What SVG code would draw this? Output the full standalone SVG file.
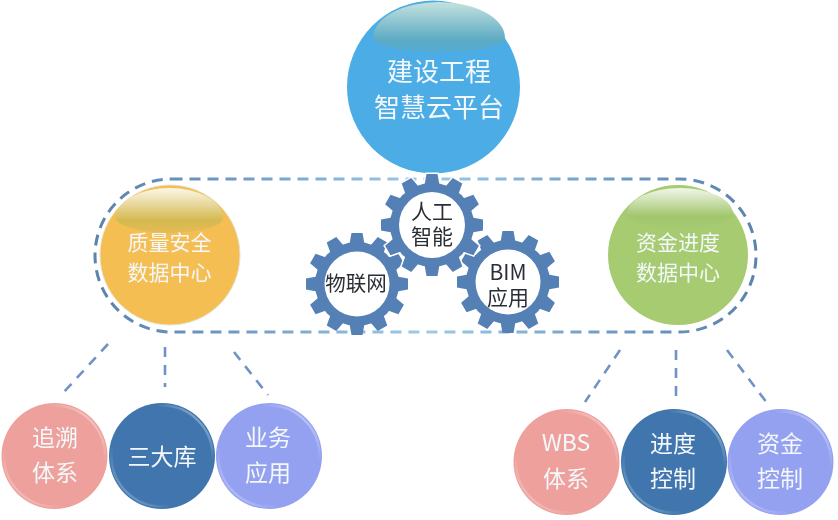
<svg xmlns="http://www.w3.org/2000/svg" xmlns:xlink="http://www.w3.org/1999/xlink" width="838" height="520" viewBox="0 0 838 520">
<style>
text{font-family:"Noto Sans CJK SC","Noto Sans",sans-serif;text-anchor:middle}
.w{fill:#f4f8fa}
.k{fill:#2b2f36}
.t26{font-size:26px}
.t21{font-size:21px}
.t23{font-size:23px}
.g20{font-size:20.5px}
.link{fill:none;stroke:#6f93c6;stroke-width:2.6;stroke-dasharray:10 8}
.rim{fill:none;stroke:url(#rim);stroke-width:2.5}
</style>
<defs>
<filter id="soft" x="-5%" y="-5%" width="110%" height="110%"><feGaussianBlur stdDeviation="0.6"/></filter>
<linearGradient id="band" gradientUnits="userSpaceOnUse" x1="95" y1="0" x2="756" y2="0">
<stop offset="0" stop-color="#5a83ad"/><stop offset=".22" stop-color="#6f9bc6"/><stop offset=".5" stop-color="#9fcbe8"/><stop offset=".78" stop-color="#6f9bc6"/><stop offset="1" stop-color="#5a83ad"/>
</linearGradient>
<linearGradient id="rim" x1="0" y1="1" x2="1" y2="0">
<stop offset="0.1" stop-color="#fff" stop-opacity=".3"/><stop offset=".3" stop-color="#fff" stop-opacity="0"/><stop offset=".72" stop-color="#fff" stop-opacity="0"/><stop offset=".9" stop-color="#fff" stop-opacity=".4"/>
</linearGradient>
<linearGradient id="glossB" x1="0" y1="0" x2="0" y2="1"><stop offset="0" stop-color="#c4e2de"/><stop offset=".75" stop-color="#5dabc4"/><stop offset="1" stop-color="#55abd2"/></linearGradient>
<linearGradient id="glossO" x1="0" y1="0" x2="0" y2="1"><stop offset="0" stop-color="#fbf7e8"/><stop offset=".72" stop-color="#d5b951"/><stop offset="1" stop-color="#e6bb52"/></linearGradient>
<linearGradient id="glossG" x1="0" y1="0" x2="0" y2="1"><stop offset="0" stop-color="#f2f6ea"/><stop offset=".7" stop-color="#a2c66e"/><stop offset="1" stop-color="#a5ca70"/></linearGradient>
<polygon id="tooth" points="-7.500,-40 -5.500,-51 5.500,-51 7.500,-40"/>
<g id="gear">
<circle r="42"/>
<use xlink:href="#tooth"/><use xlink:href="#tooth" transform="rotate(30)"/><use xlink:href="#tooth" transform="rotate(60)"/><use xlink:href="#tooth" transform="rotate(90)"/><use xlink:href="#tooth" transform="rotate(120)"/><use xlink:href="#tooth" transform="rotate(150)"/><use xlink:href="#tooth" transform="rotate(180)"/><use xlink:href="#tooth" transform="rotate(210)"/><use xlink:href="#tooth" transform="rotate(240)"/><use xlink:href="#tooth" transform="rotate(270)"/><use xlink:href="#tooth" transform="rotate(300)"/><use xlink:href="#tooth" transform="rotate(330)"/>
</g>
</defs>
<rect width="838" height="520" fill="#fff"/>
<g filter="url(#soft)">
<g id="connectors">
<rect x="95" y="179" width="661" height="153" rx="76.500" ry="76.500" fill="none" stroke="url(#band)" stroke-width="3" stroke-dasharray="11 7"/>
<path class="link" d="M108 344L63 393"/>
<path class="link" d="M165 347V387"/>
<path class="link" d="M234 352L268 395"/>
<path class="link" d="M620 350L585 402"/>
<path class="link" d="M676 350V396"/>
<path class="link" d="M727 350L767 403"/>
</g>
<g id="node-platform">
<circle cx="433.500" cy="87" r="86.500" fill="#4bace6"/>
<path d="M373 38A66 36 0 0 1 505 38A66 14 0 0 1 373 38Z" fill="url(#glossB)"/>
<text class="w t26" x="439" y="81">建设工程</text>
<text class="w t26" x="439" y="117">智慧云平台</text>
</g>
<g id="node-quality">
<circle cx="170" cy="255" r="70" fill="#f5be52" stroke="#e6e3cf" stroke-width="1"/>
<path d="M116 218A53.500 30 0 0 1 223 218A53.500 15 0 0 1 116 218Z" fill="url(#glossO)"/>
<text class="w t21" x="169.500" y="250">质量安全</text>
<text class="w t21" x="169.500" y="280">数据中心</text>
</g>
<g id="node-funds">
<circle cx="678" cy="255" r="70" fill="#a6cb70"/>
<path d="M627 214A53 26 0 0 1 733 214A53 14 0 0 1 627 214Z" fill="url(#glossG)"/>
<text class="w t21" x="678" y="250">资金进度</text>
<text class="w t21" x="678" y="280">数据中心</text>
</g>
<g id="node-iot">
<use xlink:href="#gear" x="357" y="284" fill="#5480b5"/>
<circle cx="357" cy="284" r="32.500" fill="#fff"/>
<text class="k g20" x="356" y="291">物联网</text>
</g>
<g id="node-bim">
<use xlink:href="#gear" x="508" y="282" fill="#5480b5"/>
<circle cx="508" cy="282" r="32.500" fill="#fff"/>
<text class="k t21" x="508" y="280">BIM</text>
<text class="k t21" x="508" y="305">应用</text>
</g>
<g id="node-ai">
<use xlink:href="#gear" x="432" y="225" fill="#fff" stroke="#fff" stroke-width="3"/>
<use xlink:href="#gear" x="432" y="225" fill="#5480b5"/>
<circle cx="432" cy="225" r="33" fill="#fff"/>
<text class="k t21" x="432" y="219">人工</text>
<text class="k t21" x="432" y="244">智能</text>
</g>
<g id="node-trace">
<circle cx="54.500" cy="456" r="53" fill="#eda09c"/><circle class="rim" cx="54.500" cy="456" r="50.500"/>
<text class="w t23" x="55" y="446">追溯</text>
<text class="w t23" x="55" y="481">体系</text>
</g>
<g id="node-library">
<circle cx="162" cy="456" r="53" fill="#3f75ad"/><circle class="rim" cx="162" cy="456" r="50.500"/>
<text class="w t23" x="162" y="465">三大库</text>
</g>
<g id="node-business">
<circle cx="269" cy="456" r="53" fill="#94a1f0"/><circle class="rim" cx="269" cy="456" r="50.500"/>
<text class="w t23" x="268" y="446">业务</text>
<text class="w t23" x="268" y="481">应用</text>
</g>
<g id="node-wbs">
<circle cx="566.500" cy="462" r="53" fill="#eda09c"/><circle class="rim" cx="566.500" cy="462" r="50.500"/>
<text class="w t23" x="566" y="451">WBS</text>
<text class="w t23" x="566" y="487">体系</text>
</g>
<g id="node-progress">
<circle cx="674" cy="462" r="53" fill="#3f75ad"/><circle class="rim" cx="674" cy="462" r="50.500"/>
<text class="w t23" x="673" y="452">进度</text>
<text class="w t23" x="673" y="487">控制</text>
</g>
<g id="node-money">
<circle cx="780.500" cy="462" r="53" fill="#94a1f0"/><circle class="rim" cx="780.500" cy="462" r="50.500"/>
<text class="w t23" x="780" y="452">资金</text>
<text class="w t23" x="780" y="487">控制</text>
</g>
</g>
</svg>
